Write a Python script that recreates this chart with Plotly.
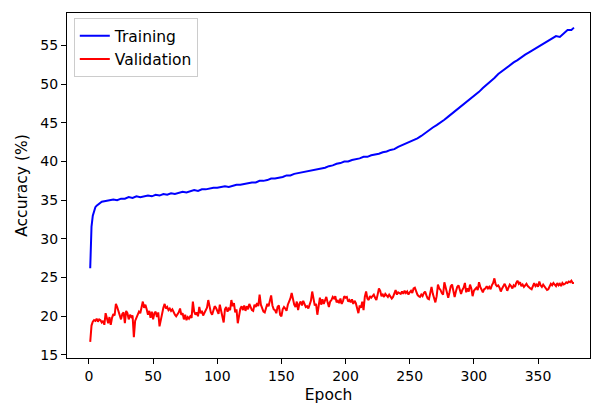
import plotly.graph_objects as go

# ---- data ----
val_epochs = list(range(1, 379))
val_acc = [
    16.7, 18.8, 19.3, 19.5, 19.4, 19.7, 19.3, 19.6, 19.5, 19.2,
    19.4, 18.9, 20.4, 19.6, 19.1, 19.9, 18.9, 19.8, 20.3, 20.1,
    21.6, 21.2, 20.7, 20.2, 19.6, 20.3, 20.5, 19.1, 20.7, 20.4,
    19.6, 20.2, 19.9, 20.1, 17.3, 19.4, 19.9, 20.3, 20.6, 20.4,
    21.2, 21.9, 21.1, 21.5, 20.9, 20.2, 20.7, 19.8, 20.6, 19.6,
    20.4, 20.6, 19.9, 20.5, 18.7, 19.6, 20.4, 21.1, 21.6, 21.0,
    21.2, 20.8, 21.0, 20.7, 20.9, 20.5, 20.2, 20.0, 20.3, 20.5,
    21.0, 20.2, 20.4, 19.6, 20.2, 19.5, 19.9, 19.7, 20.0, 19.8,
    21.9, 20.6, 20.2, 20.5, 20.0, 21.2, 20.4, 20.7, 20.1, 20.5,
    20.7, 21.1, 22.1, 21.0, 20.5, 20.2, 20.8, 21.3, 21.1, 20.6,
    20.3, 21.5, 20.8, 20.1, 19.2, 20.9, 21.2, 20.6, 21.0, 20.8,
    22.1, 21.3, 21.7, 20.5, 20.9, 19.1, 20.4, 21.0, 21.3, 20.8,
    21.4, 20.7, 21.3, 20.9, 21.6, 21.1, 20.8, 20.7, 21.5, 21.2,
    21.7, 21.3, 22.8, 21.5, 21.0, 20.6, 20.5, 21.2, 21.6, 21.3,
    22.0, 22.7, 21.4, 20.9, 20.8, 20.4, 21.2, 21.4, 20.2, 20.0,
    20.9, 21.2, 21.0, 20.7, 21.5, 21.8, 22.3, 23.0, 22.2, 21.5,
    21.2, 21.9, 20.8, 21.6, 21.9, 21.4, 22.0, 21.6, 21.2, 21.3,
    21.0, 21.5, 22.0, 23.2, 22.1, 21.4, 21.6, 20.2, 21.3, 22.4,
    21.5, 22.2, 21.6, 22.0, 22.5, 21.8, 21.2, 21.9, 22.1, 22.5,
    22.3, 22.6, 21.8, 22.0, 21.7, 22.3, 21.6, 22.0, 22.6, 22.4,
    22.5, 21.9, 22.1, 21.8, 22.2, 21.6, 22.0, 21.7, 20.9, 20.4,
    21.4, 21.1, 21.9, 20.8, 22.5, 23.2, 22.3, 22.1, 22.6, 22.4,
    22.6, 22.8, 22.4, 22.1, 22.8, 23.6, 23.3, 22.6, 22.8, 22.5,
    22.9, 22.7, 22.5, 22.8, 22.6, 22.3, 22.5, 23.1, 23.4, 22.8,
    23.1, 23.0, 22.9, 23.2, 22.9, 23.3, 23.0, 23.2, 22.8, 23.1,
    23.3, 23.0, 23.6, 23.7, 23.2, 22.8, 22.6, 22.5, 22.8, 22.6,
    23.0, 23.2, 22.7, 22.3, 22.2, 23.1, 23.8, 22.9, 22.4, 21.8,
    22.6, 24.1, 23.6, 23.4, 23.0, 22.8, 24.4, 23.7, 23.2, 22.4,
    23.1, 23.9, 24.1, 23.3, 22.5, 23.2, 23.8, 24.0, 23.3, 22.9,
    23.4, 23.7, 24.3, 23.1, 23.6, 23.2, 24.1, 23.6, 22.6, 23.3,
    23.5, 23.7, 23.4, 24.4, 23.8, 23.4, 23.1, 23.5, 23.6, 23.9,
    23.6, 23.8, 23.5, 24.0, 24.3, 24.9, 24.1, 23.9, 24.0, 23.7,
    23.2, 23.6, 24.0, 24.2, 23.8, 23.3, 23.7, 24.1, 23.9, 23.6,
    24.0, 23.8, 24.3, 24.6, 24.2, 24.4, 23.9, 24.1, 23.8, 24.0,
    24.2, 23.9, 23.7, 23.6, 23.5, 24.0, 24.3, 23.9, 24.1, 23.8,
    24.5, 24.0, 23.8, 24.1, 23.9, 23.7, 23.4, 23.5, 24.0, 24.2,
    24.0, 24.3, 24.1, 23.9, 24.3, 24.0, 24.2, 23.9, 24.3, 24.1,
    24.2, 24.4, 24.3, 24.5, 24.4, 24.6, 24.3, 24.3,
]

train_epochs = [
    1, 2, 3, 4, 5, 6, 8, 10,
    13, 16, 19, 22, 25, 28, 31, 34, 37, 40, 43, 46, 49, 52, 55, 58,
    61, 64, 67, 70, 73, 76, 79, 82, 85, 88, 91, 94, 97, 100, 103, 106,
    109, 112, 115, 118, 121, 124, 127, 130, 133, 136, 139, 142, 145, 148,
    151, 154, 157, 160, 163, 166, 169, 172, 175, 178, 181, 184, 187, 190,
    193, 196, 199, 202, 205, 208, 211, 214, 217, 220, 223, 226, 229, 232,
    235, 238, 241, 244, 247, 250, 253, 256, 259, 262, 265, 268, 271, 274,
    277, 280, 283, 286, 289, 292, 295, 298, 301, 304, 307, 310, 313, 316,
    319, 322, 325, 328, 331, 334, 337, 340, 343, 346, 349, 352, 355, 358,
    361, 364, 367, 370, 373, 376, 378,
]
train_acc = [
    26.2, 31.6, 33.0, 33.7, 34.1, 34.3, 34.6, 34.8,
    34.9, 35.0, 35.1, 35.0, 35.2, 35.2, 35.4, 35.3, 35.5, 35.4, 35.5, 35.6, 35.5, 35.7, 35.6, 35.8,
    35.7, 35.9, 35.8, 36.0, 36.1, 36.0, 36.2, 36.3, 36.2, 36.4, 36.4, 36.5, 36.6, 36.6, 36.7, 36.8,
    36.7, 36.9, 37.0, 37.0, 37.1, 37.2, 37.3, 37.3, 37.5, 37.5, 37.6, 37.8, 37.8, 37.9,
    38.0, 38.2, 38.2, 38.4, 38.5, 38.6, 38.7, 38.8, 38.9, 39.0, 39.1, 39.2, 39.4, 39.5,
    39.7, 39.8, 40.0, 40.0, 40.2, 40.3, 40.4, 40.6, 40.6, 40.8, 40.9, 41.0, 41.2, 41.3,
    41.5, 41.6, 41.9, 42.1, 42.3, 42.6, 42.8, 43.0, 43.3, 43.7, 44.1, 44.4, 44.7, 45.0,
    45.4, 45.8, 46.2, 46.6, 47.0, 47.4, 47.8, 48.1, 48.5, 49.0, 49.5, 49.9, 50.4, 50.8,
    51.3, 51.7, 52.1, 52.5, 52.8, 53.1, 53.5, 53.8, 54.1, 54.4, 54.8, 55.1, 55.4, 55.7,
    55.9, 56.2, 56.1, 56.6, 57.0, 57.0, 57.3,
]

x_ticks = [0, 50, 100, 150, 200, 250, 300, 350]
y_ticks = [15, 20, 25, 30, 35, 40, 45, 50, 55]

FONT = "DejaVu Sans"

fig = go.Figure()
fig.add_trace(go.Scatter(x=train_epochs, y=train_acc, mode="lines", name="Training",
                         line=dict(color="#0000ff", width=2)))
fig.add_trace(go.Scatter(x=val_epochs, y=val_acc, mode="lines", name="Validation",
                         line=dict(color="#ff0000", width=2)))

axis_common = dict(showline=True, linecolor="black", linewidth=1, mirror=True,
                   ticks="outside", ticklen=5, tickwidth=1, tickcolor="black",
                   showgrid=False, zeroline=False, automargin=False,
                   tickfont=dict(family=FONT, size=14, color="black"))

fig.update_layout(
    width=592, height=405,
    margin=dict(l=67, r=2, t=13, b=47),
    paper_bgcolor="white", plot_bgcolor="white",
    font=dict(family=FONT, size=14, color="black"),
    showlegend=True,
    legend=dict(x=0.013, y=0.985, xanchor="left", yanchor="top",
                bgcolor="rgba(255,255,255,0.8)", bordercolor="#cccccc", borderwidth=1,
                font=dict(family=FONT, size=15.5, color="black")),
    xaxis=dict(range=[-17.1, 390.5], tickvals=x_ticks,
               title=dict(text="Epoch", font=dict(family=FONT, size=15.5), standoff=6),
               **axis_common),
    yaxis=dict(range=[14.61, 59.19], tickvals=y_ticks,
               title=dict(text="Accuracy (%)", font=dict(family=FONT, size=15.5), standoff=8),
               **axis_common),
)

fig.write_html("out.html",
               config={"displayModeBar": False},
               post_script="document.body.style.margin='0';document.body.style.overflow='hidden';")
